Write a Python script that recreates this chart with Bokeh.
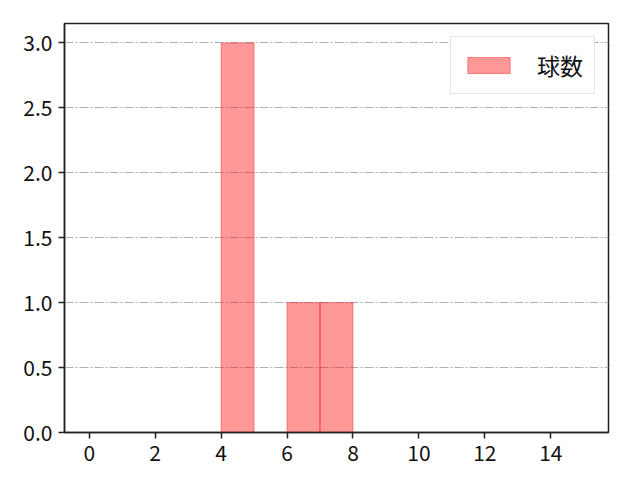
from bokeh.embed import file_html
from bokeh.models import ColumnDataSource, FixedTicker, Legend, LegendItem, Range1d
from bokeh.plotting import figure
from bokeh.resources import INLINE

# histogram bins (left edges, width 1) and counts
bin_lefts = list(range(0, 15))
counts = [0, 0, 0, 0, 3, 0, 1, 1, 0, 0, 0, 0, 0, 0, 0]
series_name = "球数"

x_ticks = [0, 2, 4, 6, 8, 10, 12, 14]
y_ticks = [0.0, 0.5, 1.0, 1.5, 2.0, 2.5, 3.0]

FONT = "Noto Sans CJK JP"

source = ColumnDataSource(data=dict(
    left=[b for b, c in zip(bin_lefts, counts) if c > 0],
    right=[b + 1 for b, c in zip(bin_lefts, counts) if c > 0],
    top=[c for c in counts if c > 0],
))

p = figure(
    frame_width=544,
    frame_height=409,
    min_border_left=64,
    min_border_top=23,
    min_border_right=24,
    min_border_bottom=40,
    x_range=Range1d(-0.75, 15.75),
    y_range=Range1d(0, 3.15),
    output_backend="svg",
    toolbar_location=None,
)

r = p.quad(left="left", right="right", bottom=0, top="top", source=source,
           fill_color="red", fill_alpha=0.4, line_color="red", line_alpha=0.4)

p.xgrid.visible = False
p.ygrid.grid_line_color = "#b0b0b0"
p.ygrid.grid_line_dash = "9 2 2 2"
p.ygrid.grid_line_width = 1

p.outline_line_color = "#222222"
p.outline_line_width = 1.5

for ax in (p.xaxis, p.yaxis):
    ax.axis_line_color = "#222222"
    ax.axis_line_width = 1.5
    ax.major_tick_line_color = "#222222"
    ax.major_tick_line_width = 1.5
    ax.major_tick_in = 0
    ax.major_tick_out = 6
    ax.minor_tick_line_color = None
    ax.major_label_text_font = FONT
    ax.major_label_text_font_size = "21px"
    ax.major_label_text_color = "#111111"
    ax.major_label_standoff = 6

p.xaxis.ticker = FixedTicker(ticks=x_ticks)
p.yaxis.ticker = FixedTicker(ticks=y_ticks)
p.yaxis.major_label_overrides = {t: f"{t:.1f}" for t in y_ticks}

legend = Legend(items=[LegendItem(label=series_name, renderers=[r])],
                location="top_right")
legend.label_text_font = FONT
legend.label_text_font_size = "23px"
legend.label_text_color = "#111111"
legend.glyph_width = 53
legend.glyph_height = 20
legend.label_standoff = 22
legend.padding = 11
legend.margin = 13
legend.border_line_color = "#cccccc"
legend.border_line_width = 1
p.add_layout(legend)

open("out.html", "w").write(file_html(p, INLINE))
